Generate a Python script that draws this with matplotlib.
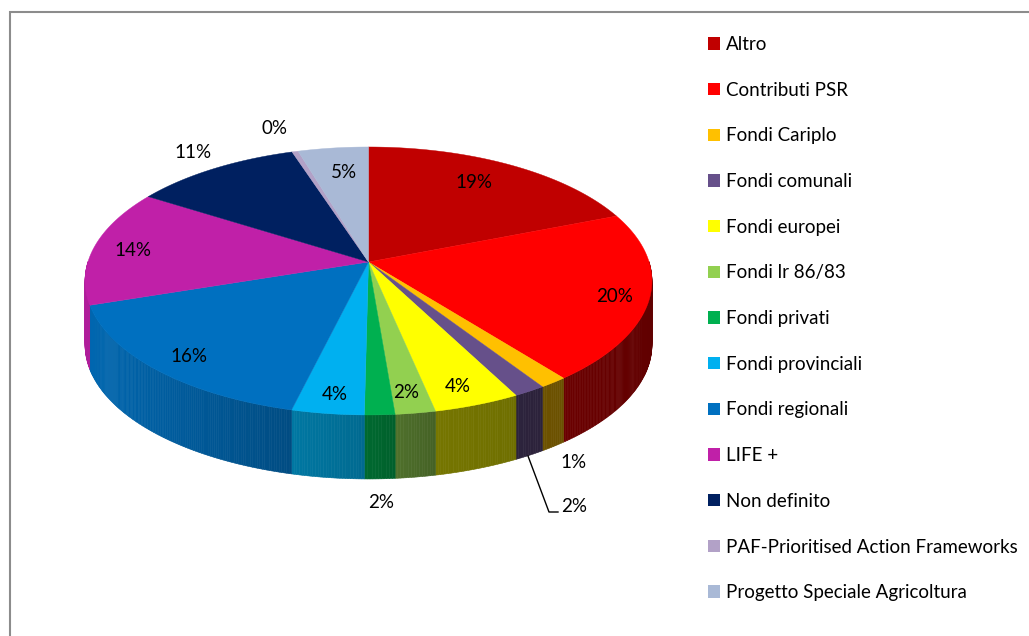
import numpy as np
import matplotlib
matplotlib.use('Agg')
import matplotlib.pyplot as plt
from matplotlib.patches import Patch

plt.rcParams['font.family'] = ['Lato', 'DejaVu Sans']

categories = ['Altro', 'Contributi PSR', 'Fondi Cariplo', 'Fondi comunali', 'Fondi europei',
              'Fondi lr 86/83', 'Fondi privati', 'Fondi provinciali', 'Fondi regionali',
              'LIFE +', 'Non definito', 'PAF-Prioritised Action Frameworks',
              'Progetto Speciale Agricoltura']
values = [19.0, 20.4, 1.4, 1.6, 4.3, 2.0, 1.5, 3.6, 16.1, 14.1, 11.0, 0.4, 4.6]
colors = ['#C00000', '#FF0000', '#FFC000', '#66508A', '#FFFF00', '#92D050', '#00B050',
          '#00B0F0', '#0070C0', '#C020A8', '#002060', '#B2A1C7', '#A9B9D6']

# label centres, in pixels
label_x = [474, 615, 574, 574, 458, 406, 381, 335, 189, 133, 193, 275, 344]
label_y = [183, 296, 463, 506, 387, 393, 503, 395, 357, 251, 153, 129, 172]

# pie geometry, in pixels (perspective squeezes the far side)
cx, cy = 368.5, 262
rx, ry = 280.6, 131.3
persp = 0.1416
depth = 64


def project(t):
    u, v = np.sin(t), np.cos(t)
    w = 1 + persp * v
    return cx + rx * u / w, cy - ry * v / w


def side_shade(x):
    return np.interp(x, [85, 290, 365, 440, 560, 652], [0.92, 0.68, 0.6, 0.46, 0.42, 0.38])


fig = plt.figure(figsize=(10.29, 6.36), dpi=100)
ax = fig.add_axes([0, 0, 1, 1])
ax.set_xlim(0, 1029)
ax.set_ylim(636, 0)
ax.axis('off')

# chart frame, only top and left show
ax.plot([9.5, 9.5, 1029], [636, 11.5, 11.5], color='#8C8C8C', lw=1.5, solid_joinstyle='miter')

edges = np.cumsum([0] + values) / sum(values) * 2 * np.pi
t_front = np.arctan2(1, persp)

# outer wall, strip by strip so the shade can run along it
for i in range(len(values)):
    ts = np.linspace(edges[i], edges[i + 1], max(3, int(values[i] * 8)))
    for a, b in zip(ts[:-1], ts[1:]):
        xa, ya = project(a)
        xb, yb = project(b)
        if xb >= xa and np.cos(a) > 0 and np.cos(b) > 0:
            continue
        shade = side_shade((xa + xb) / 2)
        c = np.array(matplotlib.colors.to_rgb(colors[i])) * shade
        ax.fill([xa, xb, xb, xa], [ya, yb, yb + depth, ya + depth], color=c, lw=0.4, zorder=2)

# top face
for i in range(len(values)):
    ts = np.linspace(edges[i], edges[i + 1], 80)
    x, y = project(ts)
    ax.fill(np.r_[cx, x], np.r_[cy, y], color=colors[i], lw=0.3, zorder=3)

for i, v in enumerate(values):
    ax.text(label_x[i], label_y[i], f'{round(v)}%', fontsize=13.5, color='black',
            ha='center', va='center', zorder=5)

# leader line for Fondi comunali
ax.plot([528, 549, 558], [456, 512, 512], color='black', lw=1, zorder=4)

handles = [Patch(facecolor=c, edgecolor='none') for c in colors]
ax.legend(handles, categories, loc='upper left', bbox_to_anchor=(708 / 1029, 1 - 36 / 636),
          frameon=False, fontsize=13.5, handlelength=0.64, handleheight=0.64,
          handletextpad=0.3, labelspacing=1.53, borderpad=0, borderaxespad=0)

fig.savefig('out.png', dpi=100)
